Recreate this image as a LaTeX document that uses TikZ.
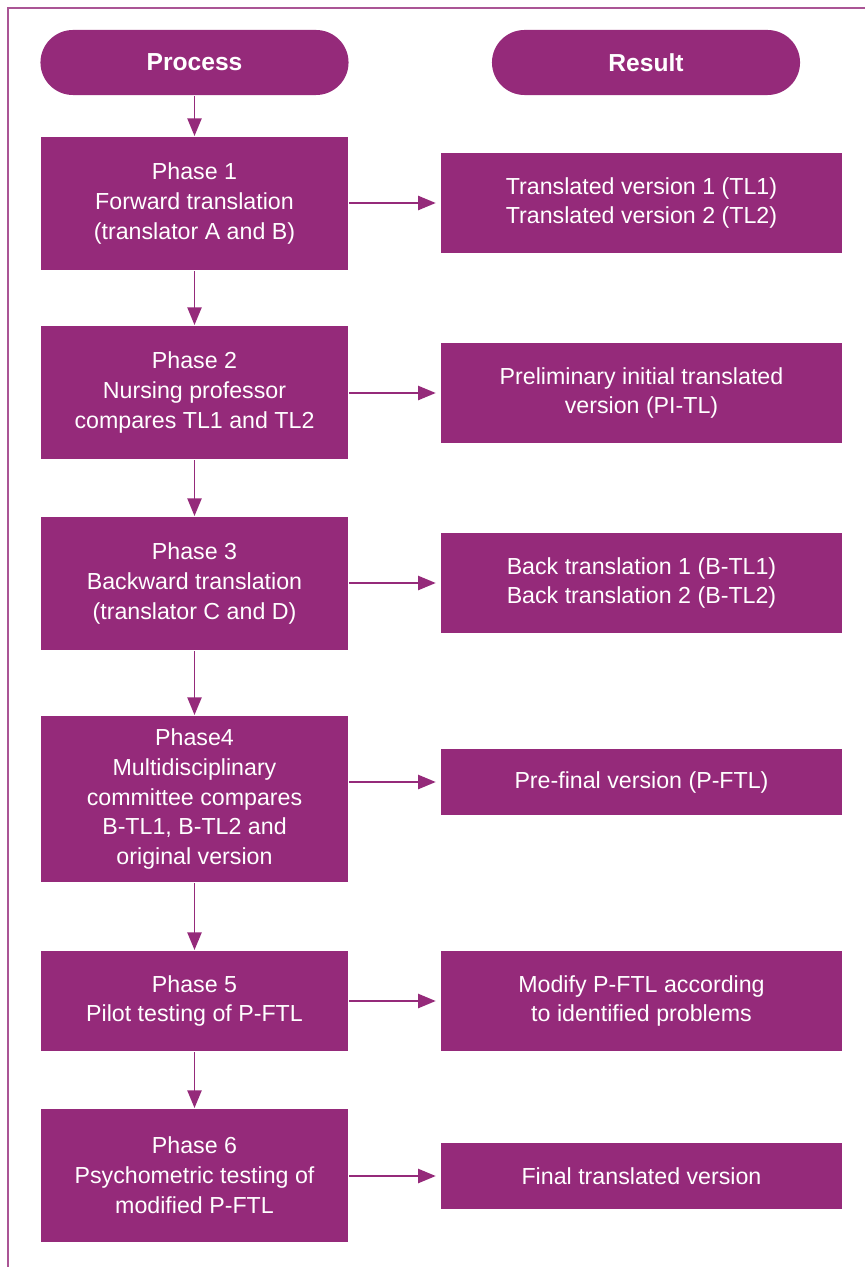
\documentclass[tikz,border=0pt]{standalone}
\usepackage{fontspec}
\setmainfont{Liberation Sans}
\usetikzlibrary{arrows.meta,positioning}
\definecolor{plum}{HTML}{952A7A}

\begin{document}
\begin{tikzpicture}[
  x=0.025cm, y=-0.025cm,
  font=\fontsize{16.5}{21.3}\selectfont,
  headbox/.style={fill=plum, text=white, rounded corners=0.8125cm, minimum width=7.7cm, minimum height=1.625cm, inner sep=0pt, font=\fontsize{17.5}{21}\selectfont\bfseries},
  procbox/.style={fill=plum, text=white, minimum width=7.675cm, inner sep=0pt, align=center},
  resbox/.style={fill=plum, text=white, minimum width=10.025cm, inner sep=0pt, align=center},
  >={Triangle[length=12.5pt, width=10pt]}, line width=1.4pt
]

\useasboundingbox (0,0) rectangle (865,1267);
\draw[plum!80, line width=1pt] (8,1267) -- (8,8) -- (865,8);

\node[headbox] (hProc) at (194.5,62.5) {Process};
\node[headbox] (hRes) at (646,62.5) {Result};

\node[procbox, minimum height=3.325cm] (p1) at (194.5,203.5) {Phase 1\\Forward translation\\(translator A and B)};
\node[procbox, minimum height=3.325cm] (p2) at (194.5,392.5) {Phase 2\\Nursing professor\\compares TL1 and TL2};
\node[procbox, minimum height=3.325cm] (p3) at (194.5,583.5) {Phase 3\\Backward translation\\(translator C and D)};
\node[procbox, minimum height=4.15cm] (p4) at (194.5,799) {Phase4\\Multidisciplinary\\committee compares\\B-TL1, B-TL2 and\\original version};
\node[procbox, minimum height=2.5cm] (p5) at (194.5,1001) {Phase 5\\Pilot testing of P-FTL};
\node[procbox, minimum height=3.325cm] (p6) at (194.5,1175.5) {Phase 6\\Psychometric testing of\\modified P-FTL};

\node[resbox, minimum height=2.5cm] (r1) at (641.5,203) {Translated version 1 (TL1)\\Translated version 2 (TL2)};
\node[resbox, minimum height=2.5cm] (r2) at (641.5,393) {Preliminary initial translated\\version (PI-TL)};
\node[resbox, minimum height=2.5cm] (r3) at (641.5,583) {Back translation 1 (B-TL1)\\Back translation 2 (B-TL2)};
\node[resbox, minimum height=1.65cm] (r4) at (641.5,782) {Pre-final version (P-FTL)};
\node[resbox, minimum height=2.5cm] (r5) at (641.5,1001) {Modify P-FTL according\\to identified problems};
\node[resbox, minimum height=1.65cm] (r6) at (641.5,1176) {Final translated version};

% process chain
\draw[->, plum] (hProc) -- (p1);
\draw[->, plum] (p1) -- (p2);
\draw[->, plum] (p2) -- (p3);
\draw[->, plum] (p3) -- (p4);
\draw[->, plum] (p4) -- (p5);
\draw[->, plum] (p5) -- (p6);

% results
\draw[->, plum, shorten >=3pt] (p1.east |- r1.west) -- (r1.west);
\draw[->, plum, shorten >=3pt] (p2.east |- r2.west) -- (r2.west);
\draw[->, plum, shorten >=3pt] (p3.east |- r3.west) -- (r3.west);
\draw[->, plum, shorten >=3pt] (p4.east |- r4.west) -- (r4.west);
\draw[->, plum, shorten >=3pt] (p5.east |- r5.west) -- (r5.west);
\draw[->, plum, shorten >=3pt] (p6.east |- r6.west) -- (r6.west);

\end{tikzpicture}
\end{document}
